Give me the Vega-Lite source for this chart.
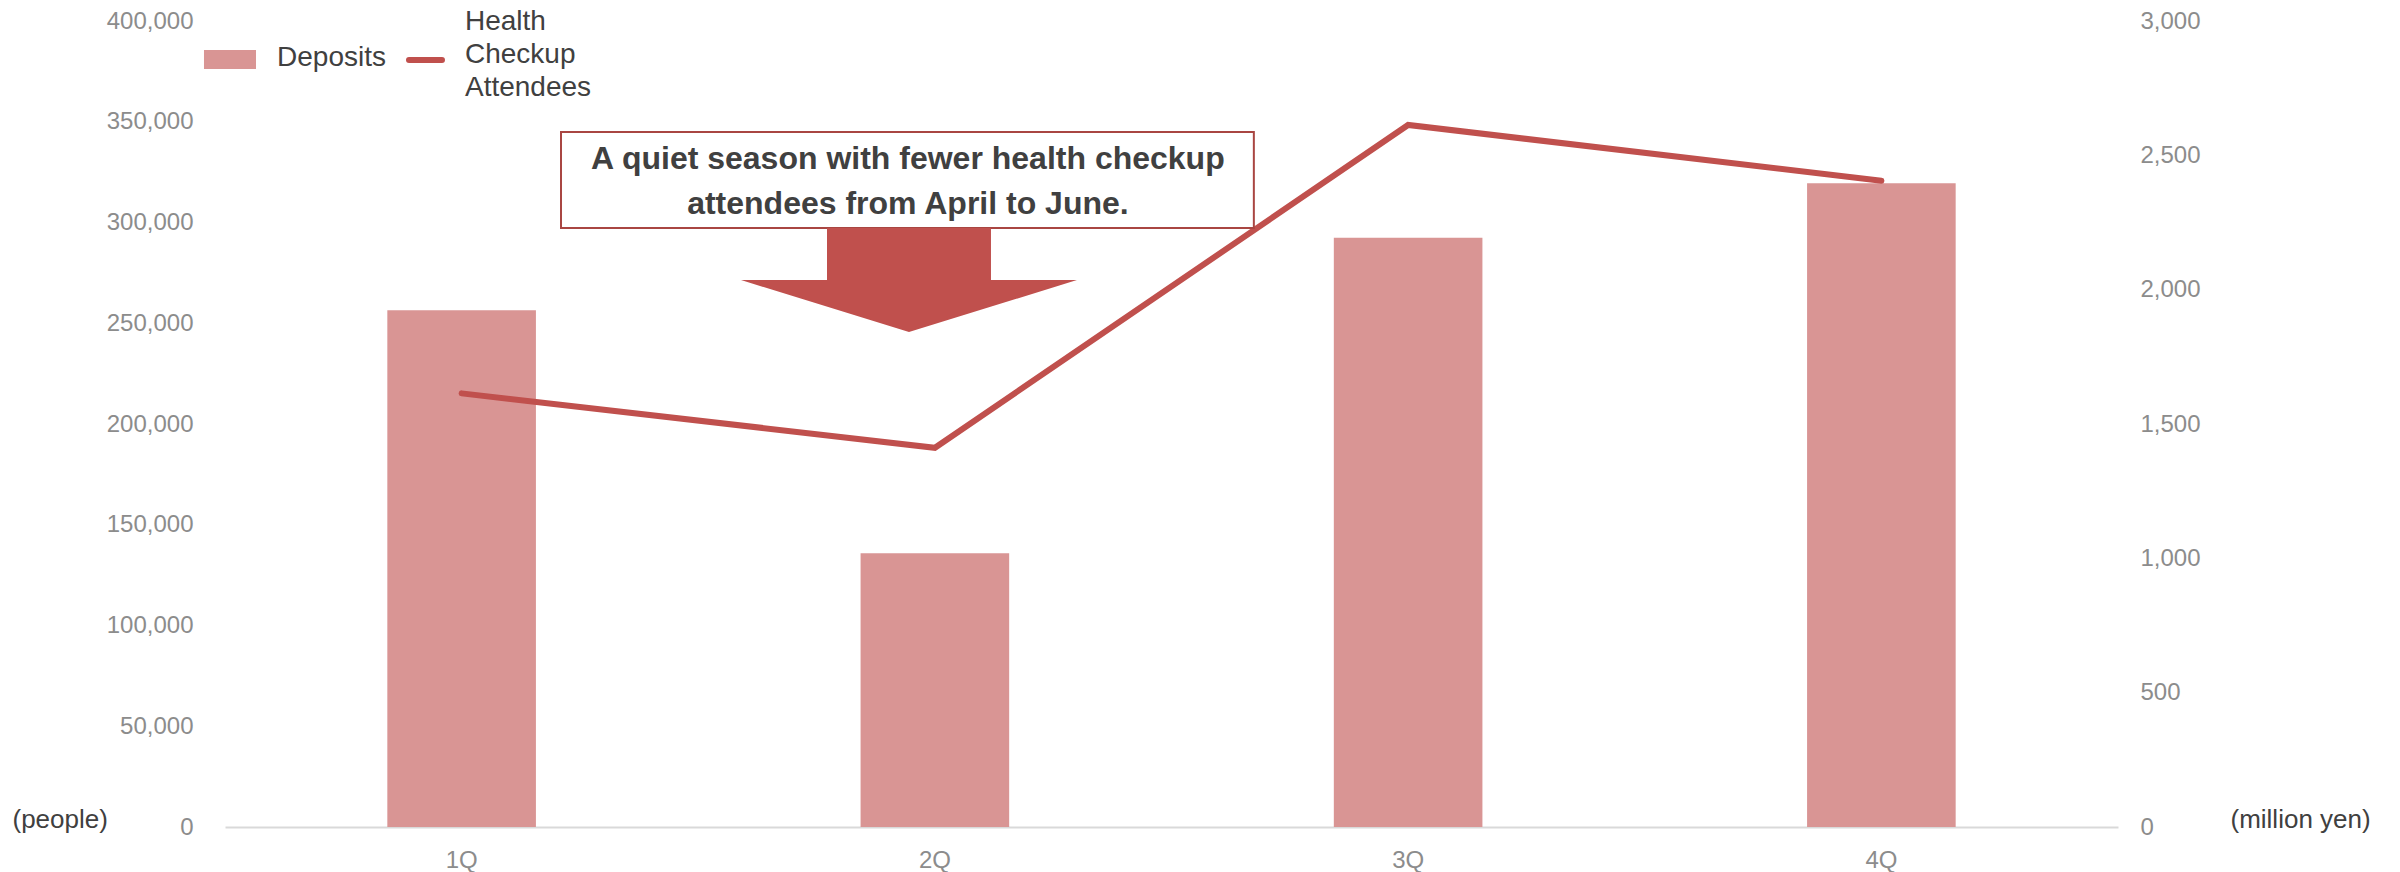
{
  "$schema": "https://vega.github.io/schema/vega-lite/v6.json",
  "width": 1893,
  "height": 806,
  "autosize": {"type": "none"},
  "padding": {"left": 225, "top": 21, "right": 282, "bottom": 45},
  "background": "white",
  "config": {"view": {"stroke": null}, "font": "Liberation Sans"},
  "data": {"values": [
    {"quarter": "1Q", "deposits": 1923, "attendees": 215200},
    {"quarter": "2Q", "deposits": 1019, "attendees": 188200},
    {"quarter": "3Q", "deposits": 2193, "attendees": 348400},
    {"quarter": "4Q", "deposits": 2396, "attendees": 320700}
  ]},
  "layer": [
    {
      "mark": {"type": "bar", "color": "#d99594"},
      "encoding": {
        "x": {"field": "quarter", "type": "nominal", "sort": null,
          "scale": {"paddingInner": 0.686, "paddingOuter": 0.343},
          "axis": {"orient": "bottom", "title": null, "labelAngle": 0, "labelFontSize": 24, "labelColor": "#8c8c8c", "labelPadding": 21, "ticks": false, "tickSize": 0, "domainColor": "#d9d9d9", "domainWidth": 2, "grid": false}},
        "y": {"field": "deposits", "type": "quantitative",
          "scale": {"domain": [0, 3000], "nice": false},
          "axis": {"orient": "right", "title": "(million yen)", "titleAngle": 0, "titleAlign": "left", "titleBaseline": "middle", "titleX": 112, "titleY": 798, "titleFontSize": 26, "titleFontWeight": "normal", "titleColor": "#404040",
            "values": [0, 500, 1000, 1500, 2000, 2500, 3000], "format": ",d", "labelFontSize": 24, "labelColor": "#8c8c8c", "labelPadding": 22, "ticks": false, "tickSize": 0, "domain": false, "grid": false}}
      }
    },
    {
      "mark": {"type": "line", "color": "#c0504d", "strokeWidth": 6, "strokeCap": "round", "strokeJoin": "miter"},
      "encoding": {
        "x": {"field": "quarter", "type": "nominal", "sort": null,
          "scale": {"paddingInner": 0.686, "paddingOuter": 0.343}, "axis": null},
        "y": {"field": "attendees", "type": "quantitative",
          "scale": {"domain": [0, 400000], "nice": false},
          "axis": {"orient": "left", "title": "(people)", "titleAngle": 0, "titleAlign": "left", "titleBaseline": "middle", "titleX": -213, "titleY": 798, "titleFontSize": 26, "titleFontWeight": "normal", "titleColor": "#404040",
            "values": [0, 50000, 100000, 150000, 200000, 250000, 300000, 350000, 400000], "format": ",d", "labelFontSize": 24, "labelColor": "#8c8c8c", "labelPadding": 32, "ticks": false, "tickSize": 0, "domain": false, "grid": false}}
      }
    },
    {
      "data": {"values": [{"series": "Deposits"}]},
      "mark": {"type": "rect", "fill": "#d99594"},
      "encoding": {
        "x": {"datum": -0.0444, "type": "quantitative", "scale": {"domain": [0, 4], "nice": false, "zero": false}, "axis": null},
        "x2": {"datum": 0.0655},
        "y": {"datum": 385600, "type": "quantitative", "scale": {"domain": [0, 400000], "nice": false}, "axis": null},
        "y2": {"datum": 376200}
      }
    },
    {
      "data": {"values": [{"series": "Deposits"}]},
      "mark": {"type": "text", "align": "left", "baseline": "middle", "fontSize": 28, "color": "#404040"},
      "encoding": {
        "text": {"field": "series"},
        "x": {"datum": 0.1099, "type": "quantitative", "scale": {"domain": [0, 4], "nice": false, "zero": false}, "axis": null},
        "y": {"datum": 381600, "type": "quantitative", "scale": {"domain": [0, 400000], "nice": false}, "axis": null}
      }
    },
    {
      "data": {"values": [{"series": "Health Checkup Attendees"}]},
      "mark": {"type": "rule", "color": "#c0504d", "strokeWidth": 6, "strokeCap": "round"},
      "encoding": {
        "x": {"datum": 0.3888, "type": "quantitative", "scale": {"domain": [0, 4], "nice": false, "zero": false}, "axis": null},
        "x2": {"datum": 0.4585},
        "y": {"datum": 380600, "type": "quantitative", "scale": {"domain": [0, 400000], "nice": false}, "axis": null}
      }
    },
    {
      "data": {"values": [{"series": "Health Checkup Attendees"}]},
      "mark": {"type": "text", "align": "left", "baseline": "middle", "fontSize": 28, "lineHeight": 33, "color": "#404040",
        "text": ["Health", "Checkup", "Attendees"]},
      "encoding": {
        "x": {"datum": 0.5071, "type": "quantitative", "scale": {"domain": [0, 4], "nice": false, "zero": false}, "axis": null},
        "y": {"datum": 399500, "type": "quantitative", "scale": {"domain": [0, 400000], "nice": false}, "axis": null}
      }
    },
    {
      "data": {"values": [{}]},
      "mark": {"type": "rect", "fill": "white", "stroke": "#a94642", "strokeWidth": 2},
      "encoding": {
        "x": {"datum": 0.710, "type": "quantitative", "scale": {"domain": [0, 4], "nice": false, "zero": false}, "axis": null},
        "x2": {"datum": 2.174},
        "y": {"datum": 344900, "type": "quantitative", "scale": {"domain": [0, 400000], "nice": false}, "axis": null},
        "y2": {"datum": 297300}
      }
    },
    {
      "data": {"values": [{}]},
      "mark": {"type": "text", "align": "center", "baseline": "middle", "fontSize": 32, "fontWeight": "bold", "lineHeight": 45, "color": "#404040",
        "text": ["A quiet season with fewer health checkup", "attendees from April to June."]},
      "encoding": {
        "x": {"datum": 1.443, "type": "quantitative", "scale": {"domain": [0, 4], "nice": false, "zero": false}, "axis": null},
        "y": {"datum": 331300, "type": "quantitative", "scale": {"domain": [0, 400000], "nice": false}, "axis": null}
      }
    },
    {
      "data": {"values": [{}]},
      "mark": {"type": "point", "filled": true, "fill": "#c0504d", "opacity": 1, "strokeWidth": 0, "size": 112896,
        "shape": "M-0.488,-0.31L0.488,-0.31L0.488,0L1,0L0,0.31L-1,0L-0.488,0Z"},
      "encoding": {
        "x": {"datum": 1.4453, "type": "quantitative", "scale": {"domain": [0, 4], "nice": false, "zero": false}, "axis": null},
        "y": {"datum": 271460, "type": "quantitative", "scale": {"domain": [0, 400000], "nice": false}, "axis": null}
      }
    }
  ],
  "resolve": {"scale": {"x": "independent", "y": "independent"}}
}
